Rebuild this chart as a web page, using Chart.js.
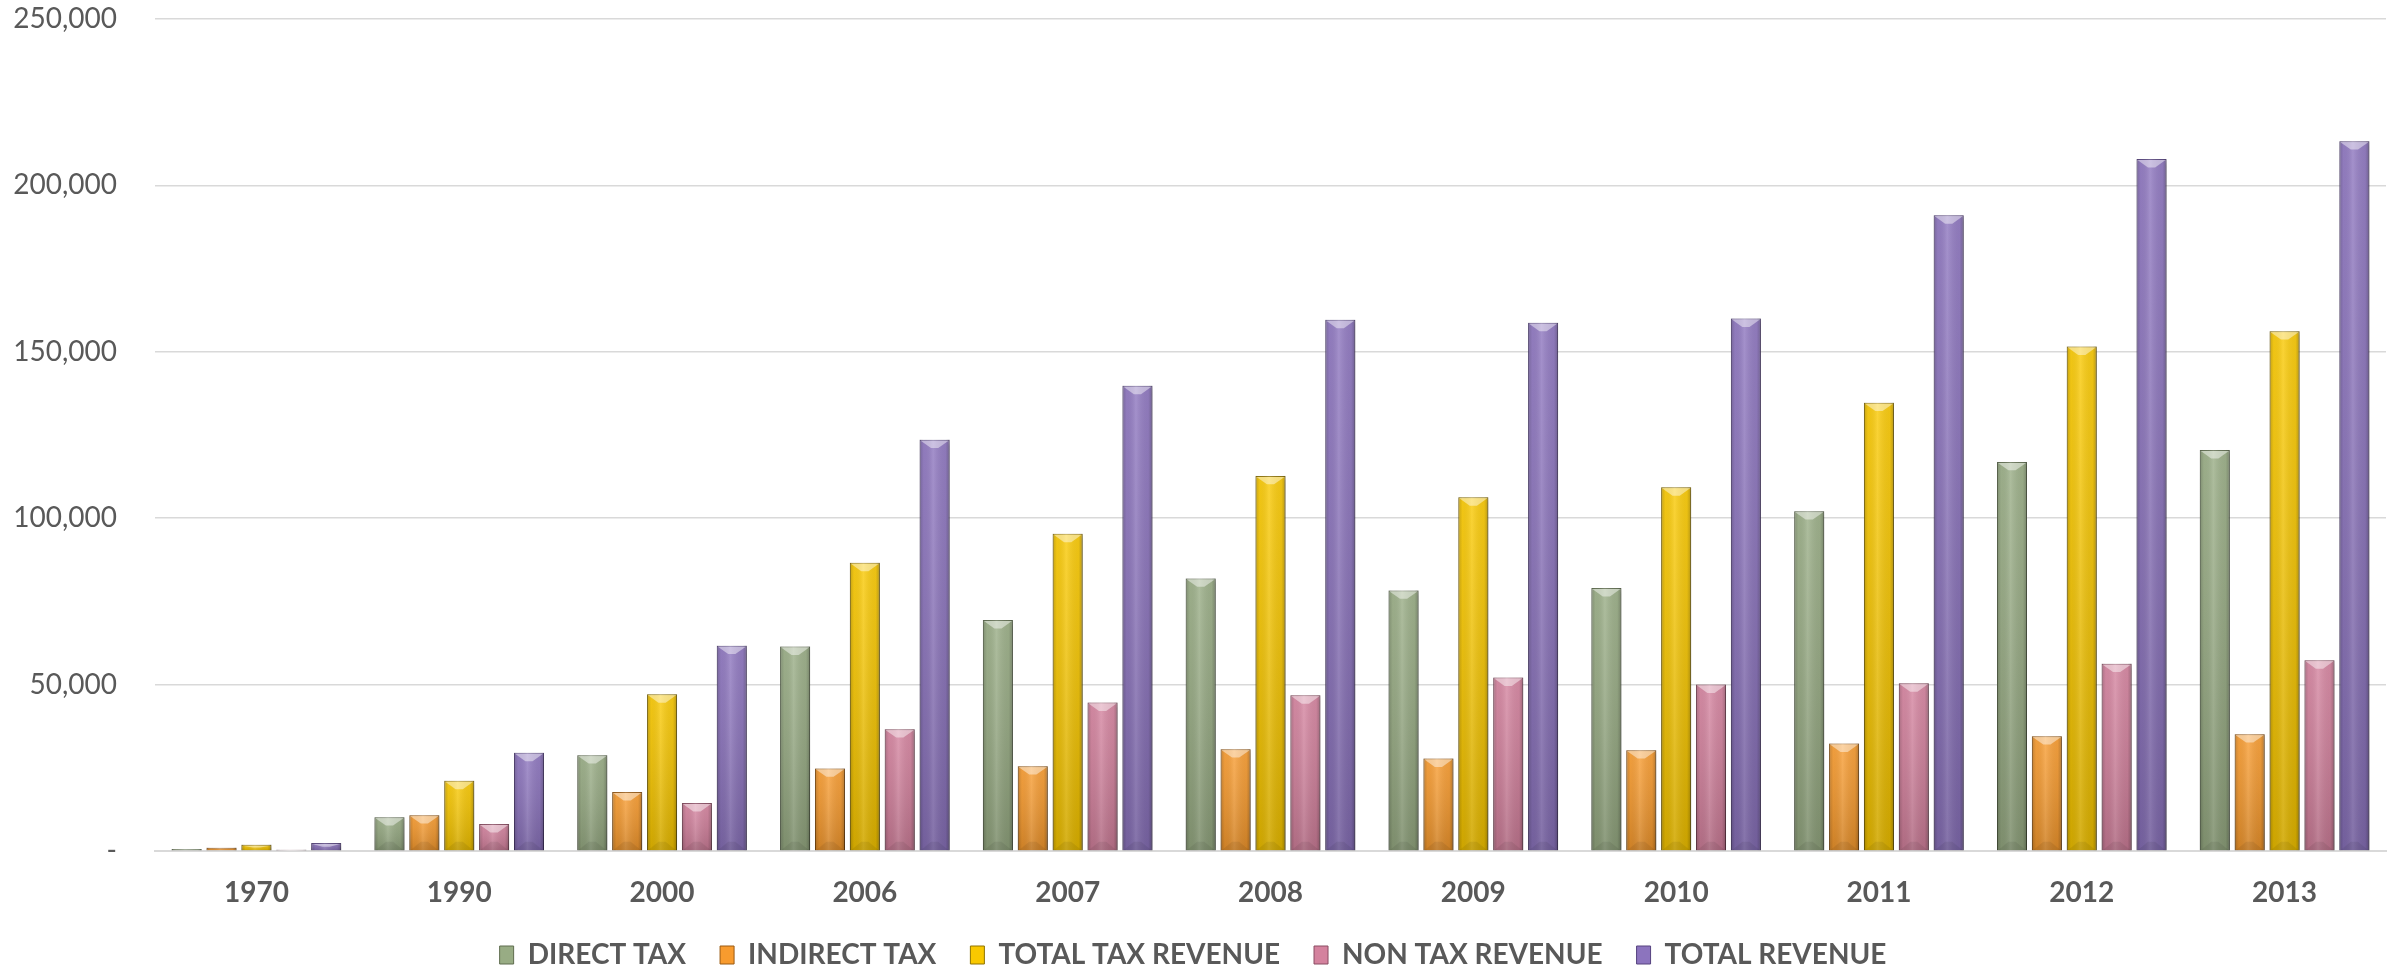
<!DOCTYPE html>
<html>
<head>
<meta charset="utf-8">
<script src="https://cdn.jsdelivr.net/npm/chart.js@4.4.1/dist/chart.umd.min.js"></script>
<style>
  html, body { margin: 0; padding: 0; background: #ffffff; }
  #wrap { width: 2395px; height: 968px; }
</style>
</head>
<body>
<div id="wrap"><canvas id="revenueChart"></canvas></div>
<script>
const years = ['1970', '1990', '2000', '2006', '2007', '2008', '2009', '2010', '2011', '2012', '2013'];

const directTax      = [600, 10150, 28800, 61450, 69400, 81900, 78300, 79000, 102100, 116900, 120500];
const indirectTax    = [1000, 10750, 17700, 24800, 25500, 30600, 27800, 30300, 32300, 34500, 35100];
const totalTaxRev    = [1900, 21100, 47100, 86600, 95300, 112700, 106300, 109300, 134700, 151600, 156200];
const nonTaxRevenue  = [400, 8100, 14400, 36600, 44600, 46800, 52100, 50000, 50400, 56300, 57300];
const totalRevenue   = [2400, 29500, 61700, 123600, 139800, 159600, 158700, 160000, 191000, 207900, 213300];

const seriesNames = ['DIRECT TAX', 'INDIRECT TAX', 'TOTAL TAX REVENUE', 'NON TAX REVENUE', 'TOTAL REVENUE'];
const seriesData = [directTax, indirectTax, totalTaxRev, nonTaxRevenue, totalRevenue];
const fillColors = ['#98AC84', '#F89B2E', '#F9C800', '#D4829E', '#8C74BE'];
const edgeColors = ['#5F6D4F', '#9A5A12', '#8F7300', '#8A4C62', '#56437F'];

const textColor = '#595959';
const fontFamily = 'Lato, "Open Sans", sans-serif';

// Shadow under the bars, then shading and a bevel drawn over each one
const bevelBars = {
  id: 'bevelBars',
  beforeDatasetsDraw(chart) {
    const ctx = chart.ctx;
    ctx.save();
    ctx.shadowColor = 'rgba(0,0,0,0.25)';
    ctx.shadowBlur = 5;
    ctx.shadowOffsetX = 2;
    ctx.shadowOffsetY = 2;
  },
  afterDatasetsDraw(chart) {
    const ctx = chart.ctx;
    ctx.restore();
    ctx.save();
    chart.data.datasets.forEach((ds, i) => {
      const meta = chart.getDatasetMeta(i);
      meta.data.forEach(bar => {
        const { x, y, base, width } = bar.getProps(['x', 'y', 'base', 'width'], true);
        const left = x - width / 2;
        const right = x + width / 2;
        const h = base - y;
        if (h <= 0.5) return;

        let g = ctx.createLinearGradient(left, 0, right, 0);
        g.addColorStop(0, 'rgba(0,0,0,0.22)');
        g.addColorStop(0.14, 'rgba(0,0,0,0.04)');
        g.addColorStop(0.45, 'rgba(255,255,255,0.14)');
        g.addColorStop(0.86, 'rgba(0,0,0,0.06)');
        g.addColorStop(1, 'rgba(0,0,0,0.28)');
        ctx.fillStyle = g;
        ctx.fillRect(left, y, width, h);

        g = ctx.createLinearGradient(0, y, 0, base);
        g.addColorStop(0, 'rgba(255,255,255,0.08)');
        g.addColorStop(1, 'rgba(0,0,0,0.14)');
        ctx.fillStyle = g;
        ctx.fillRect(left, y, width, h);

        const d = Math.min(width * 0.28, h / 2);
        ctx.beginPath();
        ctx.moveTo(left + 1, y + 1);
        ctx.lineTo(right - 1, y + 1);
        ctx.lineTo(x + width * 0.12, y + d);
        ctx.lineTo(x - width * 0.12, y + d);
        ctx.closePath();
        ctx.fillStyle = 'rgba(255,255,255,0.45)';
        ctx.fill();

        if (h > 2 * d) {
          ctx.beginPath();
          ctx.moveTo(left + 1, base);
          ctx.lineTo(right - 1, base);
          ctx.lineTo(x + width * 0.12, base - d);
          ctx.lineTo(x - width * 0.12, base - d);
          ctx.closePath();
          ctx.fillStyle = 'rgba(0,0,0,0.07)';
          ctx.fill();
        }
      });
    });
    ctx.restore();
  }
};

const datasets = seriesNames.map((name, i) => ({
  label: name,
  data: seriesData[i],
  backgroundColor: fillColors[i],
  borderColor: edgeColors[i],
  borderWidth: 1
}));

new Chart(document.getElementById('revenueChart'), {
  type: 'bar',
  data: { labels: years, datasets: datasets },
  options: {
    responsive: true,
    maintainAspectRatio: false,
    animation: false,
    devicePixelRatio: 1,
    categoryPercentage: 0.86,
    barPercentage: 0.86,
    layout: { padding: { top: 19, right: 9, bottom: -11, left: 0 } },
    plugins: {
      tooltip: { enabled: false },
      legend: {
        position: 'bottom',
        labels: {
          color: textColor,
          font: { family: fontFamily, size: 28, weight: 'bold' },
          boxWidth: 14,
          boxHeight: 18,
          padding: 34
        }
      }
    },
    scales: {
      x: {
        afterFit(axis) { axis.height = 56; },
        grid: { display: false, drawTicks: false },
        border: { color: '#D9D9D9', width: 2 },
        ticks: {
          color: textColor,
          padding: 28,
          font: { family: fontFamily, size: 28, weight: 'bold', lineHeight: 1 }
        }
      },
      y: {
        min: 0,
        max: 250000,
        afterFit(axis) {
          axis.width = 155;
          axis.paddingTop = 17;
          axis.paddingBottom = 17;
        },
        grid: { color: '#D9D9D9', lineWidth: 1.5, drawTicks: false },
        border: { display: false },
        ticks: {
          stepSize: 50000,
          padding: 38,
          color: textColor,
          font: { family: fontFamily, size: 28 },
          callback: v => v === 0 ? '-' : v.toLocaleString('en-US')
        }
      }
    }
  },
  plugins: [bevelBars]
});
</script>
</body>
</html>
